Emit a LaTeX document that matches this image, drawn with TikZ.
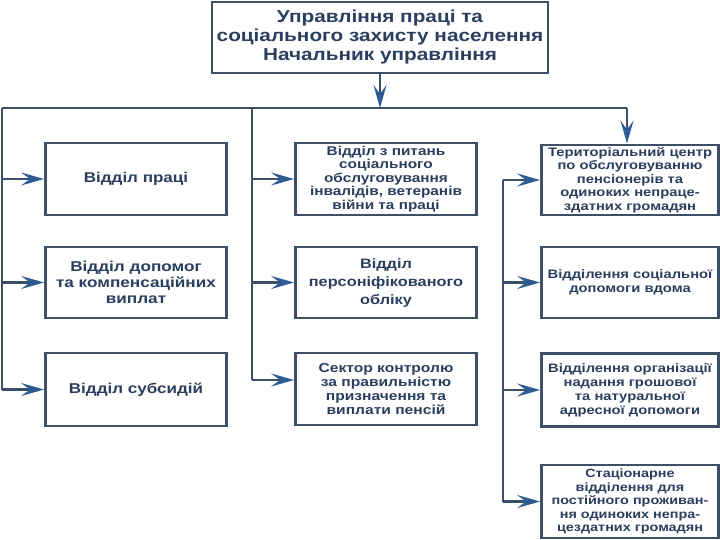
\documentclass[tikz,border=0pt]{standalone}
\usepackage{fontspec}
\setmainfont{Liberation Sans}[FakeStretch=1.2]
\usepackage{tikz}
\usetikzlibrary{arrows.meta,calc}
\definecolor{boxline}{HTML}{3E5068}
\definecolor{tipblue}{HTML}{2E5C96}
\definecolor{txtblue}{HTML}{2A3F5E}
\tikzset{
  unit/.style={draw=boxline, line width=2.8pt, fill=white, text=txtblue, align=center,
    font=\bfseries, inner sep=1pt},
  link/.style={draw=boxline, line width=2.8pt},
  feed/.style={link, -{Stealth[length=23pt, width=13pt, inset=9pt, color=tipblue]}},
}
\begin{document}
\begin{tikzpicture}[x=1pt, y=-1pt]
		\useasboundingbox (0,0) rectangle (720,540);
		% head of the department
		\node[unit, minimum width=336pt, minimum height=71pt, font=\bfseries\fontsize{17.3}{19}\selectfont] (head) at (380,37.5)
			{Управління праці та\\соціального захисту населення\\Начальник управління};
		% left column
		\node[unit, minimum width=181pt, minimum height=72pt, font=\bfseries\fontsize{14.2}{16}\selectfont] (l1) at (136,179) {Відділ праці};
		\node[unit, minimum width=181pt, minimum height=71pt, font=\bfseries\fontsize{14.3}{16}\selectfont] (l2) at (136,282.5) {Відділ допомог\\та компенсаційних\\виплат};
		\node[unit, minimum width=181pt, minimum height=73pt, font=\bfseries\fontsize{14.2}{16}\selectfont] (l3) at (136,389.5) {Відділ субсидій};
		% middle column
		\node[unit, minimum width=181pt, minimum height=72pt, font=\bfseries\fontsize{12.8}{13.5}\selectfont] (m1) at (386,179)
			{Відділ з питань\\соціального\\обслуговування\\інвалідів, ветеранів\\війни та праці};
		\node[unit, minimum width=181pt, minimum height=71pt, font=\bfseries\fontsize{13.6}{18}\selectfont] (m2) at (386,282.5)
			{Відділ\\персоніфікованого\\обліку};
		\node[unit, minimum width=181pt, minimum height=72pt, font=\bfseries\fontsize{13}{14}\selectfont] (m3) at (386,389)
			{Сектор контролю\\за правильністю\\призначення та\\виплати пенсій};
		% right column
		\node[unit, minimum width=177pt, minimum height=70pt, font=\bfseries\fontsize{12.3}{13.5}\selectfont] (r1) at (630,180)
			{Територіальний центр\\по обслуговуванню\\пенсіонерів та\\одиноких непраце-\\здатних громадян};
		\node[unit, minimum width=177pt, minimum height=71pt, font=\bfseries\fontsize{12.3}{14}\selectfont] (r2) at (630,282.5)
			{Відділення соціальної\\допомоги вдома};
		\node[unit, minimum width=177pt, minimum height=73pt, font=\bfseries\fontsize{12.3}{14}\selectfont] (r3) at (630,390)
			{Відділення організації\\надання грошової\\та натуральної\\адресної допомоги};
		\node[unit, minimum width=177pt, minimum height=73pt, font=\bfseries\fontsize{12}{13.5}\selectfont] (r4) at (630,501.5)
			{Стаціонарне\\відділення для\\постійного проживан-\\ня одиноких непра-\\цездатних громадян};
		% trunk
		\coordinate (bus) at (380,108);
		\coordinate (busl) at (2,108);
		\coordinate (busm) at (252,108);
		\coordinate (busr) at (627,108);
		\draw[feed] (head.south) -- (bus);
		\draw[link] (busl) -- (busr);
		\draw[feed] (busr) -- (busr |- r1.north);
		% left branch
		\coordinate (ll3) at (2,389.5);
		\draw[link] (busl) -- (ll3);
		\foreach \n in {l1,l2,l3} {
			\draw[feed] (busl |- \n.west) -- (\n.west);
		}
		% middle branch
		\coordinate (mm3) at (252,380);
		\draw[link] (busm) -- (mm3);
		\draw[feed] (busm |- m1.west) -- (m1.west);
		\draw[feed] (busm |- m2.west) -- (m2.west);
		\draw[feed] (mm3) -- (mm3 -| m3.west);
		% right branch
		\coordinate (rr1) at (503,180);
		\coordinate (rr4) at (503,501.5);
		\draw[link] (rr1) -- (rr4);
		\foreach \n in {r1,r2,r3,r4} {
			\draw[feed] (rr1 |- \n.west) -- (\n.west);
		}
	\end{tikzpicture}
\end{document}
